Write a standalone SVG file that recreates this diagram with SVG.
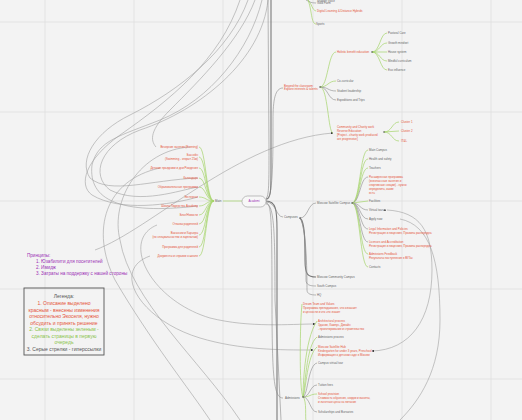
<svg xmlns="http://www.w3.org/2000/svg" width="522" height="420" viewBox="0 0 522 420">
<style>
text{font-family:"Liberation Sans",Arial,sans-serif;font-size:2.9px;fill:#666}
.r{fill:#e5533a}
.p{fill:#9b30b5}
.grid{stroke:#dedede;stroke-width:0.8}
.g{fill:none;stroke:#a5d46a;stroke-width:0.7}
.k{fill:none;stroke:#8a8a8a;stroke-width:0.6}
.kt{fill:none;stroke:#7a7a7a;stroke-width:1.1}
.h{fill:none;stroke:#a0a0a0;stroke-width:0.6}
.dot{fill:#555}
.e{text-anchor:end}
.lg{font-size:5px}
.pr{font-size:4.6px}
</style>
<defs>
<marker id="ar" viewBox="0 0 6 6" refX="5" refY="3" markerWidth="4" markerHeight="4" orient="auto"><path d="M0,0 L6,3 L0,6 z" fill="#333"/></marker>
</defs>
<rect width="522" height="420" fill="#f3f3f3"/>
<g id="grid">
<line class="grid" x1="45" y1="0" x2="45" y2="420"/>
<line class="grid" x1="134" y1="0" x2="134" y2="420"/>
<line class="grid" x1="223" y1="0" x2="223" y2="420"/>
<line class="grid" x1="313" y1="0" x2="313" y2="420"/>
<line class="grid" x1="402" y1="0" x2="402" y2="420"/>
<line class="grid" x1="491" y1="0" x2="491" y2="420"/>
<line class="grid" x1="0" y1="22" x2="522" y2="22"/>
<line class="grid" x1="0" y1="112" x2="522" y2="112"/>
<line class="grid" x1="0" y1="201" x2="522" y2="201"/>
<line class="grid" x1="0" y1="289" x2="522" y2="289"/>
<line class="grid" x1="0" y1="379" x2="522" y2="379"/>
</g>
<g id="connectors">
<path class="h" d="M268,0 C262,60 200,110 140,130 C100,145 90,175 110,190 C140,205 180,190 198,187"/>
<path class="h" d="M262,0 C250,50 210,100 160,120 C120,136 98,140 92,165 C88,200 120,215 198,206"/>
<path class="h" d="M255,0 C240,40 200,80 170,110 C150,130 150,140 156,147"/>
<path class="h" d="M248,0 C230,50 180,90 130,115 C95,132 78,160 90,178 C110,195 150,180 198,178"/>
<path class="h" d="M240,0 C220,60 170,100 120,135 C85,160 78,185 92,195 C120,212 170,205 198,197"/>
<path class="h" d="M95,250 C150,230 240,140 333,133" marker-end="url(#ar)"/>
<path class="h" d="M157,225 C120,240 150,300 210,318 C250,328 290,324 315,324" marker-end="url(#ar)"/>
<path class="h" d="M150,256 C110,270 140,320 200,338 C240,350 280,350 313,350" marker-end="url(#ar)"/>
<path class="h" d="M190,147 C140,150 110,200 120,240 C130,300 200,360 240,420"/>
<path class="h" d="M160,168 C105,180 90,230 115,280 C150,340 190,390 210,420"/>
<path class="h" d="M387,210 C420,212 432,230 432,270 C432,320 410,350 372,351" marker-end="url(#ar)"/>
<path class="h" d="M400,219 C430,225 440,260 440,320 C440,370 420,400 400,420"/>
<path class="kt" d="M266,199 C271,199 271,190 271,170 L271,0"/>
<path class="kt" d="M266,201 C276,201 277,210 277,230 L277,420"/>
<path class="k" d="M266,200 C273,200 273,160 273,120 C273,100 275,88 283,88"/>
<path class="k" d="M266,203 C271,203 272,215 272,300 C272,380 274,398 283,398"/>
<path class="k" d="M266,198 C269,198 269,180 269,150 L268,0"/>
<path class="k" d="M266,204 C274,204 275,230 275,300 L281,420"/>
<line class="g" x1="242" y1="201" x2="223" y2="201"/>
<path class="g" d="M214,201 C206,201 206,147 199,147"/>
<path class="g" d="M214,201 C206,201 206,157 199,157"/>
<path class="g" d="M214,201 C206,201 206,168 199,168"/>
<path class="g" d="M214,201 C206,201 206,178 199,178"/>
<path class="g" d="M214,201 C206,201 206,187 199,187"/>
<path class="g" d="M214,201 C206,201 206,197 199,197"/>
<path class="g" d="M214,201 C206,201 206,206 199,206"/>
<path class="g" d="M214,201 C206,201 206,215 199,215"/>
<path class="g" d="M214,201 C206,201 206,224 199,224"/>
<path class="g" d="M214,201 C206,201 206,235 199,235"/>
<path class="g" d="M214,201 C206,201 206,247 199,247"/>
<path class="g" d="M214,201 C206,201 206,256 199,256"/>
<path class="g" d="M308,0 C312,4 312,10 316,11"/>
<path class="k" d="M306,0 C310,2 311,3 316,3"/>
<path class="g" d="M308,0 C312,10 311,24 316,24"/>
<path class="g" d="M320,87 C328,87 328,52 336,52"/>
<path class="g" d="M320,87 C328,87 328,81 336,81"/>
<path class="k" d="M320,87 C328,87 328,91 336,91"/>
<path class="k" d="M320,87 C328,87 328,100 336,100"/>
<path class="g" d="M320,87 C328,87 328,133 333,133"/>
<path class="g" d="M372,52 C380,52 380,33 387,33"/>
<path class="g" d="M372,52 C380,52 380,43 387,43"/>
<path class="g" d="M372,52 L387,52"/>
<path class="g" d="M372,52 C380,52 380,61 387,61"/>
<path class="g" d="M372,52 C380,52 380,70 387,70"/>
<path class="g" d="M384,132 C392,132 392,122 399,122"/>
<path class="g" d="M384,132 L399,131"/>
<path class="g" d="M384,132 C392,132 392,141 399,141"/>
<path class="k" d="M266,202 C276,202 276,217 283,217"/>
<path class="k" d="M300,218 C308,218 308,203 316,203"/>
<path class="kt" d="M300,218 C305,222 305,240 305,260 C305,275 308,277 316,277"/>
<path class="k" d="M300,218 C306,225 306,270 306,280 C306,285 310,286 316,286"/>
<path class="k" d="M300,218 C307,228 307,280 307,290 C307,294 311,295 316,295"/>
<path class="g" d="M352,203 C360,203 360,150 368,150"/>
<path class="g" d="M352,203 C360,203 360,159 368,159"/>
<path class="g" d="M352,203 C360,203 360,168 368,168"/>
<path class="k" d="M352,203 C360,203 360,177 368,177"/>
<path class="g" d="M352,203 L368,201"/>
<path class="k" d="M352,203 C360,203 360,210 368,210"/>
<path class="k" d="M352,203 C360,203 360,219 368,219"/>
<path class="k" d="M352,203 C360,203 360,229 368,229"/>
<path class="k" d="M352,203 C360,203 360,242 368,242"/>
<path class="g" d="M352,203 C360,203 360,254 368,254"/>
<path class="g" d="M352,203 C360,203 360,267 368,267"/>
<path class="g" d="M303,397 C299,390 300,320 302,304"/>
<path class="g" d="M303,397 C303,390 304,340 317,321"/>
<path class="g" d="M303,397 C305,390 306,345 317,337"/>
<path class="g" d="M303,397 C306,390 307,355 317,347"/>
<path class="k" d="M303,397 C308,395 308,365 317,363"/>
<path class="k" d="M303,397 C310,397 310,385 317,385"/>
<path class="g" d="M303,397 C310,397 310,394 317,394"/>
<path class="k" d="M303,397 C310,397 310,412 317,412"/>
<path class="g" d="M303,397 C307,400 305,420 306,420"/>
<path d="M383,210.2 h3" stroke="#333" stroke-width="0.5" marker-end="url(#ar)"/>
</g>
<g id="n-top">
<text x="317" y="1.5">Student Voice</text>
<text x="317" y="4">Gold Farm</text>
<text x="317" y="12" class="r">Digital Learning &amp; Distance Hybrids</text>
<text x="316" y="25">Sports</text>
</g>
<g id="n-beyond">
<text x="284" y="86.5" class="r">Beyond the classroom:</text>
<text x="284" y="90" class="r">Explore interests &amp; talents</text>
<circle class="dot" cx="320" cy="87" r="0.8"/>
</g>
<g id="n-holistic">
<text x="337" y="53" class="r">Holistic benefit education</text>
<circle class="dot" cx="372" cy="52" r="0.8"/>
<text x="388" y="34">Pastoral Care</text>
<text x="388" y="44">Growth mindset</text>
<text x="388" y="53">House system</text>
<text x="388" y="62">Mindful curriculum</text>
<text x="388" y="71">Eco influence</text>
</g>
<g id="n-cocurr">
<text x="337" y="82">Co-curricular</text>
<text x="337" y="92">Student leadership</text>
<text x="337" y="101">Expeditions and Trips</text>
</g>
<g id="n-community">
<text x="337" y="128" class="r">Community and Charity work</text>
<text x="337" y="132" class="r">Reverse Education</text>
<text x="337" y="136" class="r">[Project - charity work produced</text>
<text x="337" y="140" class="r">are progressive]</text>
<circle class="dot" cx="384" cy="132" r="0.8"/>
<text x="401" y="123" class="r">Cluster 1</text>
<text x="401" y="132" class="r">Cluster 2</text>
<text x="401" y="142" class="r">IT&amp;L</text>
</g>
<g id="n-center">
<rect x="242" y="196" width="24" height="11" rx="5.5" fill="#f7f7f7" stroke="#999" stroke-width="0.6"/>
<text x="254" y="202.2" class="p" text-anchor="middle">Academi</text>
</g>
<g id="n-main">
<text x="215" y="202">Main</text>
</g>
<g id="n-left">
<text x="198" y="148" class="r e">Вечерние занятия (Evening)</text>
<text x="198" y="156" class="r e">Бассейн</text>
<text x="198" y="160" class="r e">(Swimming - открыт 25м)</text>
<text x="198" y="169" class="r e">Детские праздники и дни Рождения</text>
<text x="198" y="179" class="r e">Календарь</text>
<text x="198" y="188" class="r e">Образовательные программы</text>
<text x="198" y="198" class="r e">Экстернат</text>
<text x="198" y="207" class="r e">Школа Лидерства Academy</text>
<text x="198" y="216" class="r e">Блог/Новости</text>
<text x="198" y="225" class="r e">Отзывы родителей</text>
<text x="198" y="234" class="r e">Вакансии и Карьера</text>
<text x="198" y="238" class="r e">(по специальностям и зарплатам)</text>
<text x="198" y="248" class="r e">Программа для родителей</text>
<text x="198" y="257" class="r e">Документы и справки о школе</text>
</g>
<g id="n-campuses">
<text x="284" y="218">Campuses</text>
<circle class="dot" cx="300" cy="218" r="0.8"/>
</g>
<g id="n-satellite">
<text x="317" y="204">Moscow Satellite Campus</text>
<circle class="dot" cx="352" cy="203" r="0.8"/>
<text x="369" y="151">Main Campus</text>
<text x="369" y="160">Health and safety</text>
<text x="369" y="169">Teachers</text>
<text x="369" y="178" class="r">Расширенная программа</text>
<text x="369" y="182" class="r">(внеклассные занятия и</text>
<text x="369" y="186" class="r">спортивные секции) - нужно</text>
<text x="369" y="190" class="r">определить, какие</text>
<text x="369" y="194" class="r">есть</text>
<text x="369" y="202">Facilities</text>
<text x="369" y="211">Virtual tour</text>
<text x="369" y="220">Apply now</text>
<text x="369" y="230" class="r">Legal Information and Policies</text>
<text x="369" y="234" class="r">Регистрация и лицензия, Правила распорядка</text>
<text x="369" y="243" class="r">Licences and Accreditation</text>
<text x="369" y="247" class="r">Регистрация и лицензия, Правила распорядка</text>
<text x="369" y="255" class="r">Admissions Feedback</text>
<text x="369" y="259" class="r">Результаты поступления в ВУЗы</text>
<text x="369" y="268">Contacts</text>
</g>
<g id="n-other-campus">
<text x="317" y="278">Moscow Community Campus</text>
<text x="317" y="287">South Campus</text>
<text x="317" y="296">HQ</text>
</g>
<g id="n-admissions">
<text x="285" y="399">Admissions</text>
<circle class="dot" cx="303" cy="397" r="0.8"/>
<text x="303" y="305" class="r">Dream Team and Values</text>
<text x="303" y="309" class="r">Программа преподавания, что означает</text>
<text x="303" y="313" class="r">и ценности и что это значит</text>
<text x="318" y="322" class="r">Architectural process</text>
<text x="318" y="326" class="r">Здание, Кампус, Дизайн</text>
<text x="318" y="330" class="r">- проектирование и строительство</text>
<text x="318" y="338">Admissions process</text>
<text x="318" y="348" class="r">Moscow Satellite Hub</text>
<text x="318" y="352" class="r">Kindergarten for under 3 years, Preschool</text>
<text x="318" y="356" class="r">Информация о детском саде в Москве</text>
<text x="318" y="364">Campus virtual tour</text>
<text x="318" y="386">Tuition fees</text>
<text x="318" y="395" class="r">School provision</text>
<text x="318" y="399" class="r">Стоимость обучения, скидки и вычеты,</text>
<text x="318" y="403" class="r">и льготные цены на питание</text>
<text x="318" y="413">Scholarships and Bursaries</text>
</g>
<g id="principles">
<text x="27" y="257" class="p pr">Принципы:</text>
<text x="36" y="263" class="p pr">1. Юзабилити для посетителей</text>
<text x="36" y="269" class="p pr">2. Имидж</text>
<text x="36" y="275" class="p pr">3. Затраты на поддержку с нашей стороны</text>
</g>
<g id="legend" text-anchor="middle">
<rect x="24" y="288" width="80" height="67" fill="none" stroke="#555" stroke-width="0.9"/>
<text x="64" y="298" class="lg" style="fill:#555">Легенда:</text>
<text x="64" y="305" class="r lg">1. Описание выделено</text>
<text x="64" y="311.5" class="r lg">красным - внесены изменения</text>
<text x="64" y="318" class="r lg">относительно Экоселя, нужно</text>
<text x="64" y="324.5" class="r lg">обсудить и принять решение</text>
<text x="64" y="331" class="lg" style="fill:#8bc34a">2. Связи выделены зеленым -</text>
<text x="64" y="337.5" class="lg" style="fill:#8bc34a">сделать страницы в первую</text>
<text x="64" y="344" class="lg" style="fill:#8bc34a">очередь</text>
<text x="64" y="350.5" class="lg" style="fill:#555">3. Серые стрелки - гиперссылки</text>
</g>
</svg>
